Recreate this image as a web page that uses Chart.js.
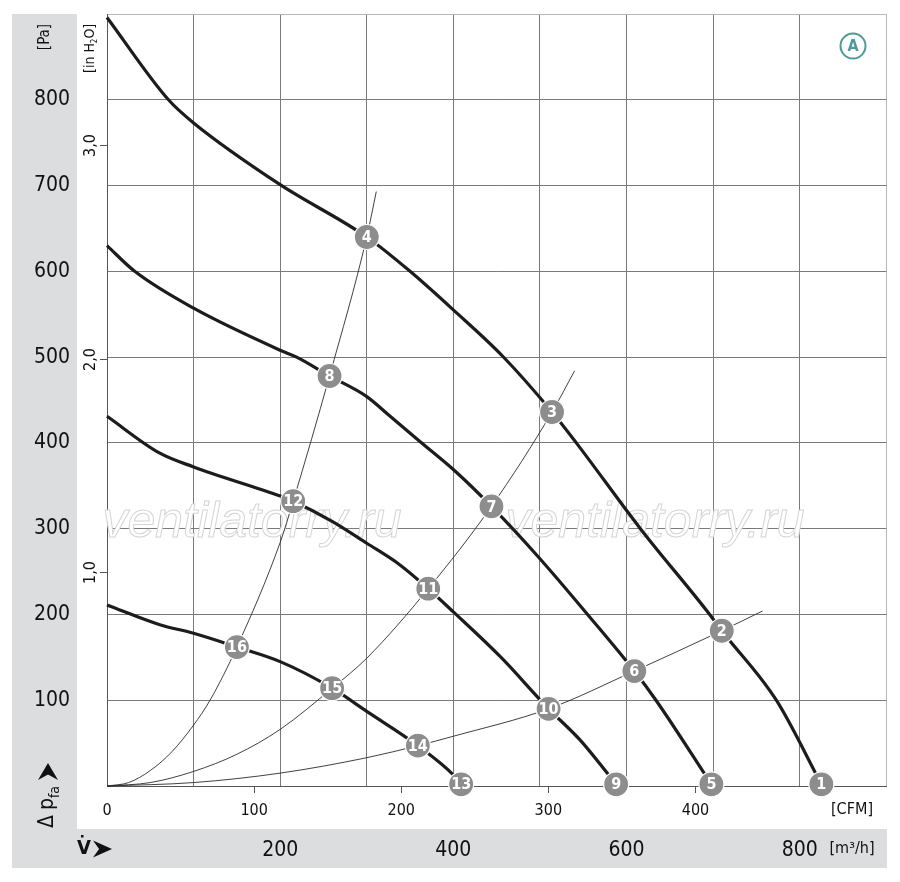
<!DOCTYPE html>
<html>
<head>
<meta charset="utf-8">
<script src="https://cdn.jsdelivr.net/npm/chart.js@4.4.0/dist/chart.umd.min.js"></script>
<style>
  html, body { margin: 0; padding: 0; background: #fff; }
  #wrap { width: 900px; height: 882px; }
</style>
</head>
<body>
<div id="wrap"><canvas id="fanChart" width="900" height="882"></canvas></div>
<script>
// fan curves: flow in m3/h, pressure in Pa
const flowA = [0, 71, 100, 200, 300, 350, 400, 457, 514, 542, 616, 696, 710, 773, 825];
const pressA = [896, 800, 773, 701, 640, 600, 555, 501, 436, 400, 300, 200, 181, 100, 2];
const flowB = [0, 32, 100, 200, 219, 257, 300, 327, 361, 400, 444, 500, 555, 609, 634, 698];
const pressB = [630, 600, 557, 508, 500, 478, 454, 431, 402, 369, 326, 265, 200, 134, 100, 2];
const flowC = [0, 61, 100, 200, 215, 261, 300, 338, 371, 400, 454, 510, 546, 588];
const pressC = [431, 388, 372, 338, 332, 308, 283, 258, 230, 203, 151, 90, 54, 2];
const flowD = [0, 61, 100, 150, 200, 260, 300, 359, 400, 409];
const pressD = [211, 188, 178, 162, 145, 114, 87, 47, 13, 2];

// system (resistance) curves
const sys1Flow = [0, 25, 50, 75, 100, 119, 150, 200, 215, 257, 300, 311];
const sys1Press = [0, 4, 18, 40, 71, 100, 162, 284, 332, 478, 640, 693];
const sys2Flow = [0, 50, 100, 150, 200, 260, 300, 371, 444, 514, 540];
const sys2Press = [0, 4, 17, 37, 66, 114, 149, 230, 326, 436, 484];
const sys3Flow = [0, 100, 200, 300, 359, 400, 510, 609, 710, 757];
const sys3Press = [0, 4, 15, 33, 47, 58, 90, 134, 181, 204];

// numbered operating points
const markerLabels = ['1', '2', '3', '4', '5', '6', '7', '8', '9', '10', '11', '12', '13', '14', '15', '16'];
const markerFlow = [825, 710, 514, 300, 698, 609, 444, 257, 588, 510, 371, 215, 409, 359, 260, 150];
const markerPress = [2, 181, 436, 640, 2, 134, 326, 478, 2, 90, 230, 332, 2, 47, 114, 162];

// axis ticks
const paTicks = [100, 200, 300, 400, 500, 600, 700, 800];
const flowTicks = [200, 400, 600, 800];
const cfmTicks = [0, 100, 200, 300, 400];
const inH2OTicks = [1, 2, 3];
const M3H_PER_CFM = 1.699;
const PA_PER_INH2O = 249.09;

const FONT = '"DejaVu Sans Condensed", "Liberation Sans Narrow", "Liberation Sans", sans-serif';
const BAND = '#dcdddf';

function pts(xs, ys) {
  return xs.map((x, i) => ({ x: x, y: ys[i] }));
}

function fanCurve(xs, ys) {
  return {
    data: pts(xs, ys), showLine: true, borderColor: '#1c1c1c', borderWidth: 3.2,
    pointRadius: 0, cubicInterpolationMode: 'monotone', fill: false
  };
}
function sysCurve(xs, ys) {
  return {
    data: pts(xs, ys), showLine: true, borderColor: '#2b2b2b', borderWidth: 0.9,
    pointRadius: 0, cubicInterpolationMode: 'monotone', fill: false
  };
}

function arrowHead(ctx, len, wid) {
  // notched arrow pointing along +x, tip at (len, 0)
  ctx.beginPath();
  ctx.moveTo(0, -wid / 2);
  ctx.lineTo(len, 0);
  ctx.lineTo(0, wid / 2);
  ctx.lineTo(len * 0.32, 0);
  ctx.closePath();
  ctx.fill();
}

// fixed axis sizes so the plot box lands where it does in the original
function fixSize(w, h) {
  return s => {
    if (w) s.width = w;
    if (h) s.height = h;
    s.paddingTop = 0; s.paddingBottom = 0; s.paddingLeft = 0; s.paddingRight = 0;
  };
}

const decor = {
  id: 'decor',
  beforeDraw(chart) {
    const ctx = chart.ctx;
    ctx.save();
    ctx.fillStyle = '#fff';
    ctx.fillRect(0, 0, chart.width, chart.height);
    ctx.fillStyle = BAND;
    ctx.fillRect(12, 14, 65, 854);
    ctx.fillRect(12, 829, 875, 39);
    ctx.restore();
  },
  beforeDatasetsDraw(chart) {
    const ctx = chart.ctx;
    ctx.save();
    ctx.font = 'italic 50px "Liberation Sans", sans-serif';
    ctx.textAlign = 'center';
    ctx.textBaseline = 'alphabetic';
    ctx.lineWidth = 1;
    ctx.strokeStyle = '#d4d4d4';
    ctx.fillStyle = '#ffffff';
    [252, 655].forEach(cx => {
      ctx.fillText('ventilatorry.ru', cx, 537);
      ctx.strokeText('ventilatorry.ru', cx, 537);
    });
    ctx.restore();
  },
  afterDraw(chart) {
    const ctx = chart.ctx;
    const ys = chart.scales.y;
    const area = chart.chartArea;
    ctx.save();

    // inch H2O secondary scale
    ctx.strokeStyle = '#555';
    ctx.lineWidth = 1;
    ctx.fillStyle = '#111';
    ctx.font = '16px ' + FONT;
    ctx.textAlign = 'center';
    ctx.textBaseline = 'middle';
    inH2OTicks.forEach(v => {
      const py = Math.round(ys.getPixelForValue(v * PA_PER_INH2O)) + 0.5;
      ctx.beginPath();
      ctx.moveTo(area.left - 7, py);
      ctx.lineTo(area.left, py);
      ctx.stroke();
      ctx.save();
      ctx.translate(91, py);
      ctx.rotate(-Math.PI / 2);
      ctx.fillText(v.toFixed(1).replace('.', ','), 0, 0);
      ctx.restore();
    });

    // unit labels, rotated
    ctx.save();
    ctx.translate(45, 37);
    ctx.rotate(-Math.PI / 2);
    ctx.font = '15px ' + FONT;
    ctx.fillText('[Pa]', 0, 0);
    ctx.restore();

    ctx.save();
    ctx.translate(90, 73);
    ctx.rotate(-Math.PI / 2);
    ctx.textAlign = 'left';
    ctx.font = '14px ' + FONT;
    let tx = 0;
    ctx.fillText('[in H', tx, 0);
    tx += ctx.measureText('[in H').width;
    ctx.font = '8px ' + FONT;
    ctx.fillText('2', tx, 5);
    tx += ctx.measureText('2').width;
    ctx.font = '14px ' + FONT;
    ctx.fillText('O]', tx, 0);
    ctx.restore();

    // delta p_fa label
    ctx.save();
    ctx.translate(48, 828);
    ctx.rotate(-Math.PI / 2);
    ctx.textAlign = 'left';
    ctx.font = '21px ' + FONT;
    tx = 0;
    ctx.fillText('\u0394', tx, 0);
    tx += ctx.measureText('\u0394').width + 5;
    ctx.fillText('p', tx, 0);
    tx += ctx.measureText('p').width;
    ctx.font = '14px ' + FONT;
    ctx.fillText('fa', tx, 7);
    tx += ctx.measureText('fa').width + 6;
    ctx.translate(tx, 0);
    arrowHead(ctx, 17, 20);
    ctx.restore();

    // V-dot label
    ctx.save();
    ctx.font = 'bold 20px ' + FONT;
    ctx.textAlign = 'left';
    ctx.fillText('V', 77, 849);
    ctx.fillRect(81, 835, 2.5, 2.5);
    ctx.translate(93, 849);
    arrowHead(ctx, 19, 17);
    ctx.restore();

    ctx.font = '16px ' + FONT;
    ctx.textAlign = 'center';
    ctx.fillText('[CFM]', 852, 810);
    ctx.fillText('[m\u00b3/h]', 852, 849);

    // circled A
    ctx.strokeStyle = '#4e9a96';
    ctx.fillStyle = '#4e9a96';
    ctx.lineWidth = 2;
    ctx.beginPath();
    ctx.arc(853, 46, 12.5, 0, Math.PI * 2);
    ctx.stroke();
    ctx.font = 'bold 16px ' + FONT;
    ctx.fillText('A', 853, 47);

    // marker numbers
    const meta = chart.getDatasetMeta(0);
    ctx.fillStyle = '#fff';
    ctx.font = 'bold 16px ' + FONT;
    meta.data.forEach((el, i) => {
      ctx.fillText(markerLabels[i], el.x, el.y + 1);
    });
    ctx.restore();
  }
};

const gridColor = edge => ctx => (ctx.tick && ctx.tick.value === edge ? '#b8b8b8' : '#7a7a7a');

new Chart(document.getElementById('fanChart'), {
  type: 'scatter',
  data: {
    datasets: [
      {
        data: pts(markerFlow, markerPress), pointRadius: 12.5, pointHoverRadius: 12.5,
        backgroundColor: '#8d8d8d', borderColor: '#ffffff', borderWidth: 1.2, showLine: false
      },
      fanCurve(flowA, pressA),
      fanCurve(flowB, pressB),
      fanCurve(flowC, pressC),
      fanCurve(flowD, pressD),
      sysCurve(sys1Flow, sys1Press),
      sysCurve(sys2Flow, sys2Press),
      sysCurve(sys3Flow, sys3Press)
    ]
  },
  options: {
    responsive: false,
    devicePixelRatio: 1,
    animation: false,
    clip: false,
    layout: { padding: { left: 0, right: 13, top: 14, bottom: 0 } },
    plugins: { legend: { display: false }, tooltip: { enabled: false } },
    scales: {
      x: {
        type: 'linear', position: 'bottom', weight: 1, min: 0, max: 900,
        afterFit: fixSize(0, 53),
        border: { display: false },
        grid: { color: gridColor(900), lineWidth: 1, drawTicks: false },
        ticks: {
          stepSize: 100, autoSkip: false, maxRotation: 0, padding: 9, color: '#111',
          font: { family: FONT, size: 21 },
          callback: v => (flowTicks.includes(v) ? String(v) : '')
        }
      },
      cfm: {
        type: 'linear', position: 'bottom', weight: 0, min: 0, max: 900 / M3H_PER_CFM,
        afterFit: fixSize(0, 43),
        border: { display: true, color: '#555', width: 1 },
        grid: {
          drawOnChartArea: false, drawTicks: true, tickLength: 7,
          tickColor: ctx => (ctx.tick && ctx.tick.value > 0 && ctx.tick.value < 500 ? '#555' : 'rgba(0,0,0,0)')
        },
        ticks: {
          stepSize: 100, autoSkip: false, maxRotation: 0, padding: 8, color: '#111',
          font: { family: FONT, size: 16 },
          callback: v => (cfmTicks.includes(v) ? String(v) : '')
        }
      },
      y: {
        type: 'linear', position: 'left', min: 0, max: 900,
        afterFit: fixSize(107, 0),
        border: { color: '#555', width: 1 },
        grid: { color: gridColor(900), lineWidth: 1, drawTicks: false },
        ticks: {
          stepSize: 100, autoSkip: false, padding: 37, color: '#111',
          font: { family: FONT, size: 21 },
          callback: v => (paTicks.includes(v) ? String(v) : '')
        }
      }
    }
  },
  plugins: [decor]
});
</script>
</body>
</html>
